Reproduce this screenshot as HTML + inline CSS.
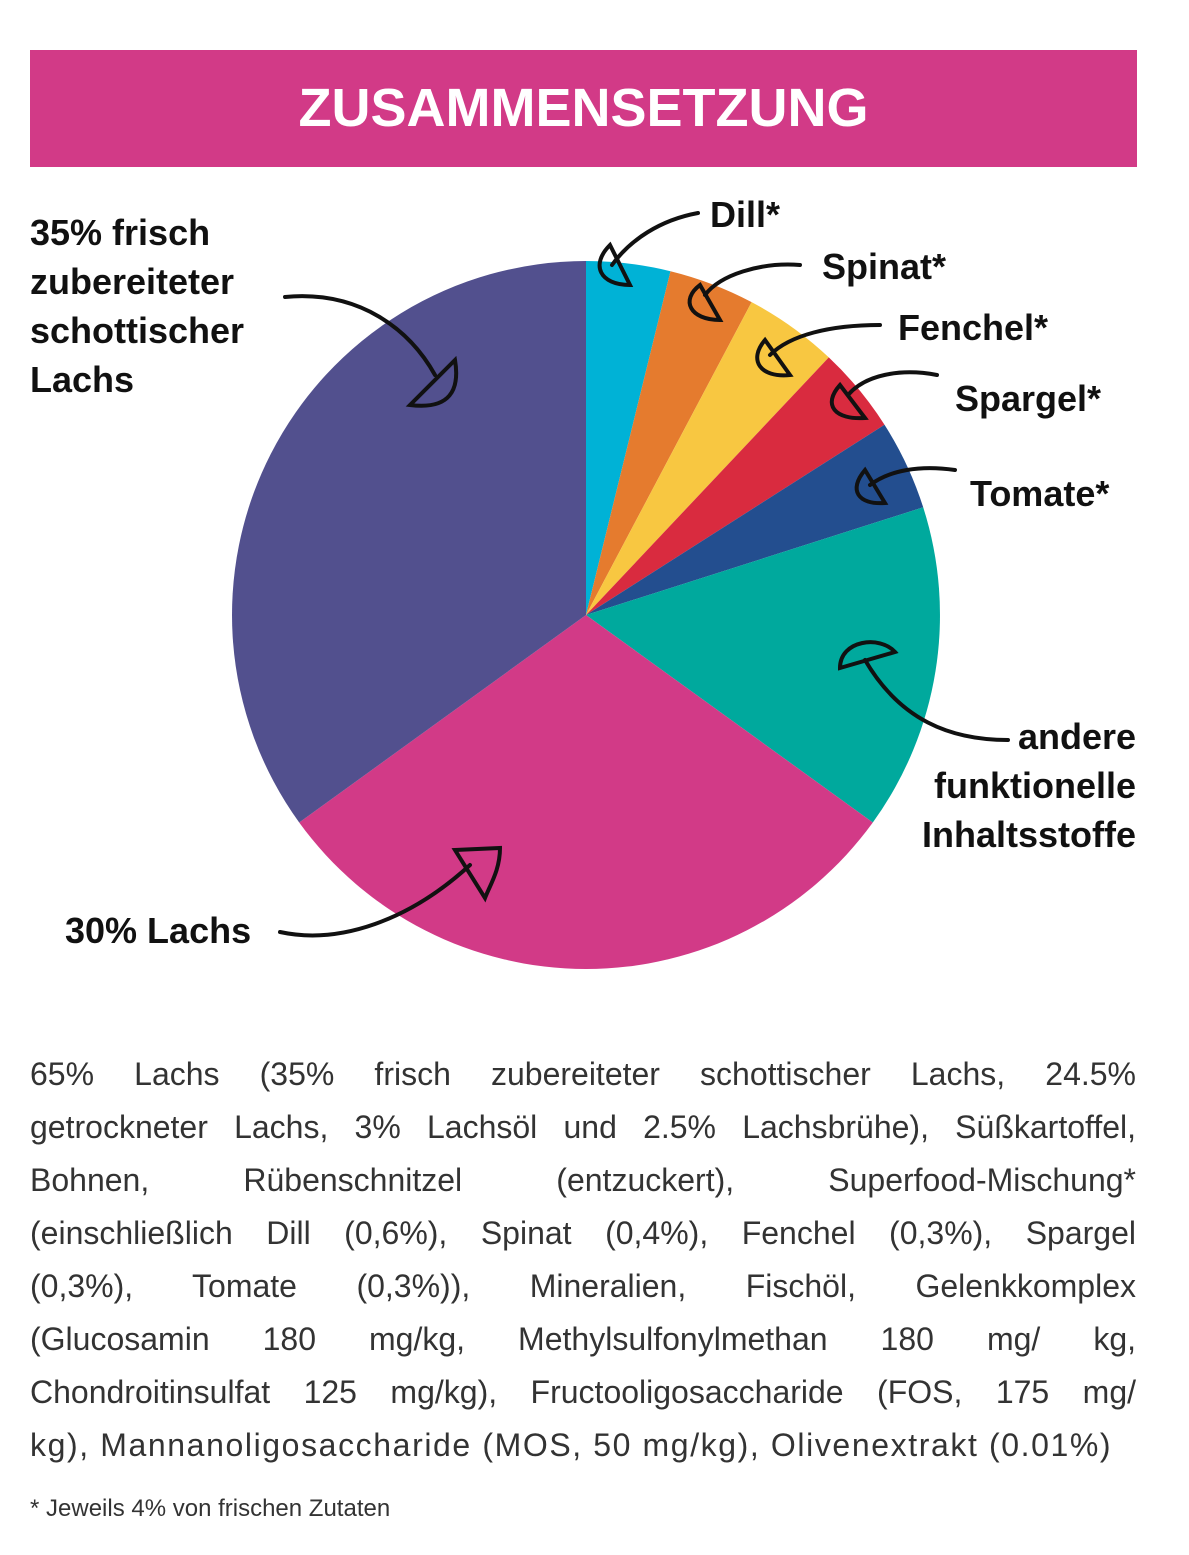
<!DOCTYPE html>
<html><head><meta charset="utf-8"><style>
body{margin:0;width:1189px;height:1555px;background:#fff;position:relative;font-family:"Liberation Sans",sans-serif;overflow:hidden}
.hdr{position:absolute;left:30px;top:50px;width:1107px;height:117px;background:#d23a87;color:#fff;font-weight:bold;font-size:54px;text-align:center;line-height:117px;letter-spacing:0px}
.lbl{position:absolute;font-weight:bold;font-size:36px;color:#111;line-height:49px}
.para{position:absolute;left:30px;top:1048px;width:1106px;font-size:32px;line-height:53px;color:#333}
.para div{text-align:justify;text-align-last:justify;white-space:nowrap;height:53px}
.para div.l{text-align-last:left;letter-spacing:1.6px}
.foot{position:absolute;left:30px;top:1495px;font-size:24px;color:#333}
</style></head><body>
<div class="hdr">ZUSAMMENSETZUNG</div>
<svg style="position:absolute;left:0;top:0" width="1189" height="1555">
<g transform="translate(586,615)">
<path d="M0,0 L0,-354 A354,354 0 0 1 84.5,-343.8 Z" fill="#00b2d6"/>
<path d="M0,0 L84.5,-343.8 A354,354 0 0 1 165.6,-312.9 Z" fill="#e57b2e"/>
<path d="M0,0 L165.6,-312.9 A354,354 0 0 1 242.8,-257.6 Z" fill="#f8c741"/>
<path d="M0,0 L242.8,-257.6 A354,354 0 0 1 298.5,-190.3 Z" fill="#d92b3f"/>
<path d="M0,0 L298.5,-190.3 A354,354 0 0 1 337.2,-107.7 Z" fill="#234e8f"/>
<path d="M0,0 L337.2,-107.7 A354,354 0 0 1 286.8,207.5 Z" fill="#00a99d"/>
<path d="M0,0 L286.8,207.5 A354,354 0 0 1 -286.8,207.5 Z" fill="#d23a87"/>
<path d="M0,0 L-286.8,207.5 A354,354 0 0 1 0,-354 Z" fill="#52508e"/>
</g>
<g fill="none" stroke="#111" stroke-width="4" stroke-linecap="round">
<path d="M285,297 C360,290 410,330 435,375"/><path d="M410,405 L455,360 C460,390 450,410 410,405Z"/>
<path d="M698,213 C660,220 630,240 612,265"/><path d="M630,285 L610,245 C590,265 600,285 630,285Z"/>
<path d="M800,265 C760,262 720,275 705,295"/><path d="M720,320 L700,285 C680,300 690,320 720,320Z"/>
<path d="M880,325 C830,325 790,335 770,355"/><path d="M790,375 L765,340 C748,360 760,378 790,375Z"/>
<path d="M937,375 C900,368 865,375 848,395"/><path d="M865,418 L840,385 C822,405 835,420 865,418Z"/>
<path d="M955,470 C920,465 890,470 870,485"/><path d="M885,503 L865,470 C848,490 858,505 885,503Z"/>
<path d="M1008,740 C950,740 900,720 865,660"/><path d="M840,668 L895,652 C880,635 840,640 840,668Z"/>
<path d="M280,932 C340,945 410,920 470,865"/><path d="M455,850 L500,848 C500,870 490,885 485,898Z"/>
</g>
</svg>
<div class="lbl" style="left:30px;top:208px">35% frisch<br>zubereiteter<br>schottischer<br>Lachs</div>
<div class="lbl" style="left:710px;top:190px">Dill*</div>
<div class="lbl" style="left:822px;top:242px">Spinat*</div>
<div class="lbl" style="left:898px;top:303px">Fenchel*</div>
<div class="lbl" style="left:955px;top:374px">Spargel*</div>
<div class="lbl" style="left:970px;top:469px">Tomate*</div>
<div class="lbl" style="right:53px;top:712px;text-align:right">andere<br>funktionelle<br>Inhaltsstoffe</div>
<div class="lbl" style="left:65px;top:906px">30% Lachs</div>
<div class="para">
<div>65% Lachs (35% frisch zubereiteter schottischer Lachs, 24.5%</div>
<div>getrockneter Lachs, 3% Lachsöl und 2.5% Lachsbrühe), Süßkartoffel,</div>
<div>Bohnen, Rübenschnitzel (entzuckert), Superfood-Mischung*</div>
<div>(einschließlich Dill (0,6%), Spinat (0,4%), Fenchel (0,3%), Spargel</div>
<div>(0,3%), Tomate (0,3%)), Mineralien, Fischöl, Gelenkkomplex</div>
<div>(Glucosamin 180 mg/kg, Methylsulfonylmethan 180 mg/ kg,</div>
<div>Chondroitinsulfat 125 mg/kg), Fructooligosaccharide (FOS, 175 mg/</div>
<div class="l">kg), Mannanoligosaccharide (MOS, 50 mg/kg), Olivenextrakt (0.01%)</div>
</div>
<div class="foot">* Jeweils 4% von frischen Zutaten</div>
</body></html>
